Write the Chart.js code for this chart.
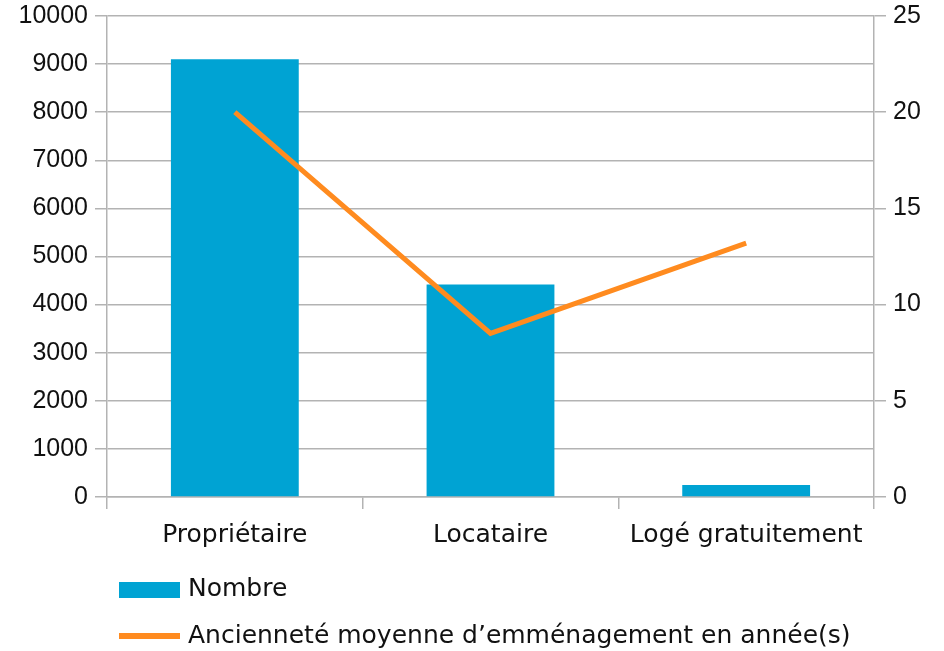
<!DOCTYPE html>
<html>
<head>
<meta charset="utf-8">
<script src="https://cdn.jsdelivr.net/npm/chart.js@4"></script>
<style>
  html, body { margin: 0; padding: 0; background: #ffffff; }
  #wrap { width: 944px; height: 651px; position: relative; }
</style>
</head>
<body>
<div id="wrap"><canvas id="logementChart"></canvas></div>
<script>
const categories = ['Propriétaire', 'Locataire', 'Logé gratuitement'];
const nombre = [9100, 4420, 250];
const anciennete = [20, 8.5, 13.2];
const seriesLabels = ['Nombre', 'Ancienneté moyenne d\u2019emménagement en année(s)'];
const leftTicks = [0, 1000, 2000, 3000, 4000, 5000, 6000, 7000, 8000, 9000, 10000];
const rightTicks = [0, 5, 10, 15, 20, 25];

const gridColor = '#b3b3b3';
const barColor = '#00a3d3';
const lineColor = '#ff8b1f';
const textColor = '#111111';
const tickFont = { family: '"Liberation Sans", Arial, sans-serif', size: 25 };
const catFont = { family: '"DejaVu Sans", sans-serif', size: 25 };

// legend drawn by hand: vertical, left aligned under the chart
const sideLegend = {
    id: 'sideLegend',
    afterDraw(chart){
        const ctx = chart.ctx;
        ctx.save();
        ctx.font = catFont.size + 'px ' + catFont.family;
        ctx.textBaseline = 'middle';
        // Nombre
        ctx.fillStyle = barColor;
        ctx.fillRect(119, 582, 61, 16);
        ctx.fillStyle = textColor;
        ctx.fillText(chart.data.datasets[1].label, 188, 589);
        // line series
        ctx.fillStyle = lineColor;
        ctx.fillRect(119, 633, 61, 6);
        ctx.fillStyle = textColor;
        ctx.fillText(chart.data.datasets[0].label, 188, 636);
        ctx.restore();
    }
};

const logementData = {
    labels: categories,
    datasets: [
        {
            type: 'line',
            label: seriesLabels[1],
            data: anciennete,
            yAxisID: 'yRight',
            borderColor: lineColor,
            backgroundColor: lineColor,
            borderWidth: 5,
            pointRadius: 0,
            tension: 0,
            order: 0
        },
        {
            type: 'bar',
            label: seriesLabels[0],
            data: nombre,
            yAxisID: 'yLeft',
            backgroundColor: barColor,
            barPercentage: 0.5,
            categoryPercentage: 1.0,
            order: 1
        }
    ]
};

const logementConfig = {
    data: logementData,
    plugins: [sideLegend],
    options: {
        responsive: false,
        animation: false,
        layout: { padding: { top: 0, bottom: 94, left: 0, right: 0 } },
        plugins: {
            legend: { display: false },
            tooltip: { enabled: false }
        },
        scales: {
            x: {
                offset: true,
                grid: { offset: true, color: gridColor, tickLength: 12, drawOnChartArea: false, lineWidth: 1.5 },
                border: { color: gridColor, width: 1.5 },
                ticks: { font: catFont, color: textColor, padding: 11, maxRotation: 0 },
                afterFit(scale){ scale.height = 60; }
            },
            yLeft: {
                position: 'left',
                min: 0,
                max: 10000,
                afterBuildTicks(scale){ scale.ticks = leftTicks.map(v => ({ value: v })); },
                grid: { color: gridColor, tickLength: 12, lineWidth: 1.5 },
                border: { color: gridColor, width: 1.5 },
                ticks: { font: tickFont, color: textColor, padding: 7, callback: v => String(v) },
                afterFit(scale){ scale.width = 107; scale.paddingTop = 16; }
            },
            yRight: {
                position: 'right',
                min: 0,
                max: 25,
                afterBuildTicks(scale){ scale.ticks = rightTicks.map(v => ({ value: v })); },
                grid: { color: gridColor, tickLength: 12, drawOnChartArea: false, lineWidth: 1.5 },
                border: { color: gridColor, width: 1.5 },
                ticks: { font: tickFont, color: textColor, padding: 7, callback: v => String(v) },
                afterFit(scale){ scale.width = 70; scale.paddingTop = 16; }
            }
        }
    }
};

const canvas = document.getElementById('logementChart');
canvas.width = 944;
canvas.height = 651;
const logementChart = new Chart(canvas, logementConfig);
</script>
</body>
</html>
